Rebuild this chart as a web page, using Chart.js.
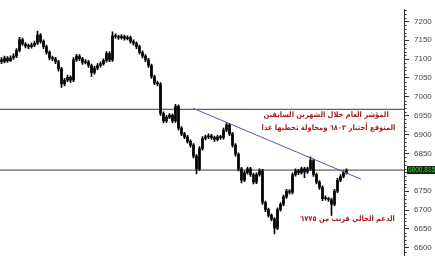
<!DOCTYPE html>
<html>
<head>
<meta charset="utf-8">
<script src="https://cdn.jsdelivr.net/npm/chart.js@4.4.1/dist/chart.umd.min.js"></script>
<style>
html,body{margin:0;padding:0;background:#fff;}
canvas{display:block;}
</style>
</head>
<body>
<canvas id="c" width="435" height="265"></canvas>
<script>
// ---- data ----
const openP  = [7098,7093,7103,7096,7103,7108,7123,7152,7140,7135,7133,7137,7142,7164,7147,7133,7118,7103,7101,7093,7074,7034,7044,7052,7044,7098,7108,7101,7091,7093,7083,7064,7076,7083,7088,7096,7115,7098,7162,7160,7157,7160,7155,7157,7147,7142,7133,7118,7108,7098,7083,7054,7037,7034,6956,6936,6946,6951,6936,6975,6917,6902,6894,6882,6872,6843,6809,6863,6890,6894,6897,6892,6887,6894,6892,6912,6926,6902,6872,6848,6809,6779,6799,6809,6794,6774,6794,6804,6720,6701,6686,6676,6652,6701,6715,6735,6750,6747,6794,6804,6799,6809,6801,6809,6831,6794,6774,6760,6730,6730,6728,6715,6750,6779,6789,6799];
const highP  = [7104,7108,7107,7109,7114,7128,7158,7156,7144,7140,7143,7148,7174,7168,7151,7137,7122,7108,7105,7097,7078,7049,7058,7056,7104,7113,7112,7105,7099,7097,7087,7081,7088,7093,7101,7120,7119,7172,7167,7164,7165,7164,7162,7161,7151,7146,7137,7122,7112,7102,7087,7058,7042,7038,6960,6951,6956,6955,6980,6979,6921,6906,6898,6886,6876,6847,6868,6895,6899,6902,6901,6896,6899,6898,6917,6931,6930,6906,6876,6852,6813,6804,6814,6813,6798,6799,6809,6808,6724,6705,6690,6680,6706,6720,6740,6755,6754,6799,6809,6808,6814,6813,6814,6841,6835,6798,6778,6764,6738,6734,6732,6755,6784,6794,6804,6809];
const lowP   = [7088,7090,7091,7093,7099,7104,7119,7136,7130,7128,7129,7133,7138,7142,7128,7113,7098,7096,7088,7068,7025,7029,7040,7038,7040,7094,7096,7086,7087,7078,7054,7060,7072,7079,7084,7092,7093,7094,7155,7152,7153,7150,7151,7142,7137,7128,7113,7103,7093,7078,7049,7032,7029,6951,6931,6932,6942,6931,6932,6912,6897,6889,6877,6867,6838,6796,6805,6859,6886,6889,6887,6882,6883,6887,6888,6908,6897,6867,6843,6804,6772,6775,6795,6789,6769,6770,6790,6715,6696,6681,6671,6637,6648,6697,6711,6731,6742,6743,6790,6794,6795,6786,6797,6805,6789,6769,6755,6725,6726,6723,6686,6711,6746,6775,6785,6795];
const closeP = [7093,7103,7096,7103,7108,7123,7152,7140,7135,7133,7137,7142,7164,7147,7133,7118,7103,7101,7093,7074,7034,7044,7052,7044,7098,7108,7101,7091,7093,7083,7064,7076,7083,7088,7096,7115,7098,7162,7160,7157,7160,7155,7157,7147,7142,7133,7118,7108,7098,7083,7054,7037,7034,6956,6936,6946,6951,6936,6975,6917,6902,6894,6882,6872,6843,6809,6863,6890,6894,6897,6892,6887,6894,6892,6912,6926,6902,6872,6848,6809,6779,6799,6809,6794,6774,6794,6804,6720,6701,6686,6676,6652,6701,6715,6735,6750,6747,6794,6804,6799,6809,6801,6809,6831,6794,6774,6760,6730,6730,6728,6715,6750,6779,6789,6799,6804];
const yTicks = [6600,6650,6700,6750,6800,6850,6900,6950,7000,7050,7100,7150,7200];
const resistanceLevel = 6967;
const supportLevel = 6806;
const supportLabel = '6800.815';
const trendX = [63.8, 119.8];
const trendY = [6970, 6782];
const noteTexts = [
  'المؤشر العام خلال الشهرين السابقين',
  'المتوقع أختبار ٦٨٠٢ ومحاولة تخطيها غدا',
  'الدعم الحالي قريب من ٦٧٧٥'
];
const noteX = [108.2, 109.0, 115.3];
const noteY = [6951, 6917, 6676];

// ---- build ----
const X_MIN = -0.5, X_MAX = 134.17;
const wicks = lowP.map((l,i)=>({x:i, y:[l, highP[i]]}));
const bodies = openP.map((o,i)=>({x:i, y:[o, closeP[i]]}));

const extras = {
  id:'extras',
  afterDraw(chart){
    const ctx = chart.ctx, ys = chart.scales.y, xs = chart.scales.x;
    const ax = chart.chartArea.right;
    ctx.save();
    // minor ticks
    ctx.strokeStyle = '#333'; ctx.lineWidth = 1;
    for (let v = 6590; v <= 7230; v += 10) {
      if (v % 50 === 0) continue;
      const py = Math.round(ys.getPixelForValue(v)) + 0.5;
      ctx.beginPath(); ctx.moveTo(ax, py); ctx.lineTo(ax + 2.5, py); ctx.stroke();
    }
    // support label box
    const by = ys.getPixelForValue(supportLevel);
    ctx.fillStyle = '#0e2a0e';
    ctx.fillRect(ax + 3, by - 4, 435 - ax - 3, 8);
    ctx.fillStyle = '#3fd03f';
    ctx.font = '6.5px "Liberation Sans Narrow", "Liberation Sans"';
    ctx.textAlign = 'left'; ctx.textBaseline = 'middle';
    ctx.fillText(supportLabel, ax + 4, by + 0.5);
    // notes
    ctx.fillStyle = '#a82020';
    ctx.font = 'bold 7.5px "DejaVu Sans Condensed", "DejaVu Sans"';
    ctx.direction = 'rtl';
    ctx.textAlign = 'center'; ctx.textBaseline = 'middle';
    noteTexts.forEach((t,i)=>{
      ctx.fillText(t, xs.getPixelForValue(noteX[i]), ys.getPixelForValue(noteY[i]));
    });
    ctx.restore();
  }
};

new Chart(document.getElementById('c'), {
  type:'bar',
  data:{
    datasets:[
      {type:'line', data:[{x:X_MIN,y:resistanceLevel},{x:X_MAX,y:resistanceLevel}], borderColor:'#3a3a3a', borderWidth:1, pointRadius:0, order:3},
      {type:'line', data:[{x:X_MIN,y:supportLevel},{x:X_MAX,y:supportLevel}], borderColor:'#3a3a3a', borderWidth:1, pointRadius:0, order:3},
      {type:'line', data:trendX.map((x,i)=>({x, y:trendY[i]})), borderColor:'#5a58b0', borderWidth:1, pointRadius:0, order:0},
      {data:wicks, backgroundColor:'#000', barThickness:1, grouped:false, order:2},
      {data:bodies, backgroundColor:'#000', barThickness:2, grouped:false, minBarLength:1, order:1}
    ]
  },
  options:{
    responsive:false, animation:false, devicePixelRatio:1,
    layout:{padding:0},
    plugins:{legend:{display:false}, tooltip:{enabled:false}},
    scales:{
      x:{type:'linear', min:X_MIN, max:X_MAX, display:false, offset:false},
      y:{
        position:'right', min:6580.4, max:7230.7,
        afterBuildTicks(s){ s.ticks = yTicks.map(v=>({value:v})); },
        afterFit(s){ s.width = 31; },
        grid:{drawOnChartArea:false, drawTicks:true, tickLength:5, color:'#333'},
        border:{display:true, color:'#333', width:1},
        ticks:{padding:5, color:'#444', font:{family:'Liberation Sans', size:8},
          callback:(v)=> v===6800 ? '' : String(v)}
      }
    }
  },
  plugins:[extras]
});
</script>
</body>
</html>
